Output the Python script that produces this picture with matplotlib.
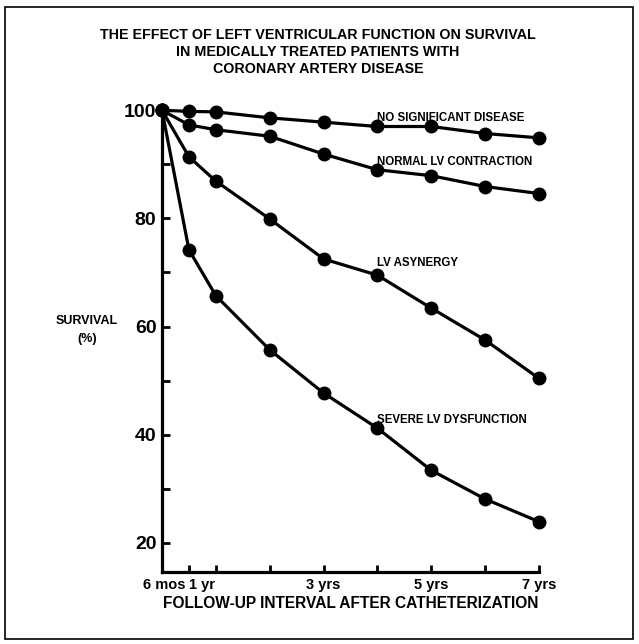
import matplotlib
matplotlib.use("Agg")
import matplotlib.pyplot as plt
import matplotlib.transforms as mtransforms
from matplotlib.patches import Rectangle

# follow-up times in years (0 = start of follow-up)
years = [0, 0.5, 1, 2, 3, 4, 5, 6, 7]

# survival (%)
no_disease = [100, 99.8, 99.7, 98.6, 97.8, 97.0, 97.0, 95.7, 94.9]
normal_lv = [100, 97.3, 96.4, 95.2, 91.9, 89.0, 87.9, 85.9, 84.6]
lv_asynergy = [100, 91.4, 86.9, 79.9, 72.5, 69.5, 63.4, 57.5, 50.4]
severe_lv = [100, 74.2, 65.7, 55.7, 47.7, 41.2, 33.4, 28.1, 23.9]

series = [no_disease, normal_lv, lv_asynergy, severe_lv]
labels = ["NO SIGNIFICANT DISEASE", "NORMAL LV CONTRACTION",
          "LV ASYNERGY", "SEVERE LV DYSFUNCTION"]
label_y = [98.6, 90.5, 71.7, 42.7]

xticks = [0.5, 1, 2, 3, 4, 5, 6, 7]
xticklabels = ["6 mos", "1 yr", "", "3 yrs", "", "5 yrs", "", "7 yrs"]
yticks = [20, 30, 40, 50, 60, 70, 80, 90, 100]
yticklabels = ["20", "", "40", "", "60", "", "80", "", "100"]

plt.rcParams['font.family'] = ['Liberation Sans', 'DejaVu Sans']
plt.rcParams['font.weight'] = 'bold'

fig = plt.figure(figsize=(6.39, 6.44), dpi=100)
ax = fig.add_axes([0.2535, 0.1118, 0.59, 0.722])

for vals in series:
    ax.plot(years, vals, color='black', lw=2.3, marker='o', markersize=9,
            clip_on=False, solid_joinstyle='round')

#curve labels
for lab, yv in zip(labels, label_y):
    ax.text(4.0, yv, lab, fontsize=8.3, fontweight='bold', ha='left', va='center')

ax.set_xlim(0, 7)
ax.set_ylim(14.6, 100.6)
ax.set_xticks(xticks)
ax.set_xticklabels(xticklabels, fontsize=10.5, fontweight='bold')
ax.set_yticks(yticks)
ax.set_yticklabels(yticklabels, fontsize=14, fontweight='bold')

ax.spines['top'].set_visible(False)
ax.spines['right'].set_visible(False)
ax.spines['left'].set_linewidth(2.3)
ax.spines['bottom'].set_linewidth(2.3)
ax.tick_params(axis='x', direction='in', length=5, width=2, pad=4)
ax.tick_params(axis='y', direction='in', length=6, width=2, pad=4)

#the first two x labels sit to the left of their ticks in the original
xl = ax.get_xticklabels()
xl[0].set_horizontalalignment('right')
xl[0].set_transform(xl[0].get_transform() + mtransforms.ScaledTranslation(-3/100, 0, fig.dpi_scale_trans))
xl[1].set_horizontalalignment('left')
xl[1].set_transform(xl[1].get_transform() + mtransforms.ScaledTranslation(-27/100, 0, fig.dpi_scale_trans))

ax.set_xlabel("FOLLOW-UP INTERVAL AFTER CATHETERIZATION", fontsize=11.2,
              fontweight='bold', labelpad=3)

fig.text(87/639, 1 - 330/644, "SURVIVAL\n(%)", fontsize=9, fontweight='bold',
         ha='center', va='center', linespacing=1.6)

fig.text(318/639, 1 - 52/644,
         "THE EFFECT OF LEFT VENTRICULAR FUNCTION ON SURVIVAL\n"
         "IN MEDICALLY TREATED PATIENTS WITH\nCORONARY ARTERY DISEASE",
         fontsize=10.25, fontweight='bold', ha='center', va='center', linespacing=1.25)

#outer frame
fig.patches.append(Rectangle((5/639, 5/644), 628/639, 632/644, transform=fig.transFigure,
                             fill=False, lw=1.2, edgecolor='black'))

fig.savefig("out.png", dpi=100)
